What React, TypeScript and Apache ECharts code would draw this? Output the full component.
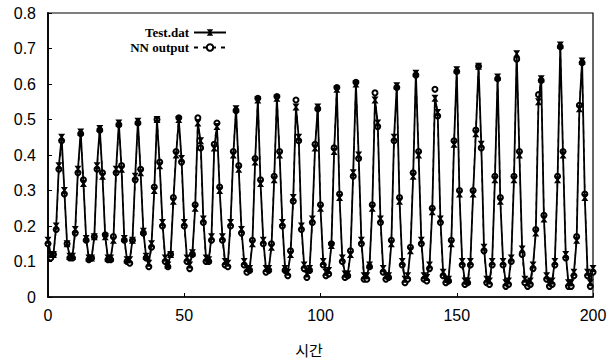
import React, { useEffect, useRef } from "react";
import * as echarts from "echarts";

const xTicks = [0, 50, 100, 150, 200];
const yTicks = [0, 0.1, 0.2, 0.3, 0.4, 0.5, 0.6, 0.7, 0.8];
const seriesNames = ["Test.dat", "NN output"];
const xAxisTitle = "시간";

// sample index t = 0..200
const testDat = [
  0.16, 0.12, 0.12, 0.2, 0.37, 0.45, 0.3, 0.15, 0.115, 0.115,
  0.19, 0.36, 0.465, 0.32, 0.165, 0.11, 0.11, 0.17, 0.37, 0.475,
  0.34, 0.17, 0.11, 0.11, 0.16, 0.36, 0.49, 0.36, 0.165, 0.105,
  0.105, 0.16, 0.34, 0.495, 0.35, 0.185, 0.115, 0.095, 0.15, 0.3,
  0.5, 0.37, 0.21, 0.11, 0.09, 0.12, 0.27, 0.4, 0.5, 0.39,
  0.21, 0.11, 0.09, 0.125, 0.25, 0.49, 0.44, 0.22, 0.11, 0.105,
  0.17, 0.42, 0.48, 0.3, 0.17, 0.1, 0.095, 0.21, 0.4, 0.53,
  0.36, 0.19, 0.1, 0.08, 0.08, 0.15, 0.38, 0.555, 0.32, 0.16,
  0.08, 0.08, 0.14, 0.33, 0.56, 0.4, 0.21, 0.08, 0.07, 0.12,
  0.28, 0.535, 0.45, 0.2, 0.09, 0.065, 0.08, 0.22, 0.42, 0.535,
  0.25, 0.1, 0.07, 0.075, 0.145, 0.41, 0.585, 0.28, 0.11, 0.065,
  0.065, 0.12, 0.35, 0.6, 0.4, 0.16, 0.06, 0.06, 0.09, 0.25,
  0.555, 0.49, 0.22, 0.08, 0.06, 0.06, 0.15, 0.45, 0.595, 0.27,
  0.1, 0.05, 0.06, 0.13, 0.34, 0.63, 0.4, 0.16, 0.06, 0.055,
  0.09, 0.24, 0.56, 0.52, 0.22, 0.07, 0.05, 0.05, 0.15, 0.43,
  0.64, 0.29, 0.1, 0.045, 0.045, 0.1, 0.29, 0.46, 0.65, 0.43,
  0.14, 0.05, 0.045, 0.1, 0.33, 0.62, 0.27, 0.1, 0.04, 0.045,
  0.11, 0.33, 0.685, 0.4, 0.135, 0.05, 0.04, 0.045, 0.09, 0.18,
  0.55, 0.615, 0.22, 0.06, 0.04, 0.045, 0.1, 0.33, 0.71, 0.4,
  0.12, 0.04, 0.04, 0.07, 0.16, 0.53, 0.665, 0.28, 0.07, 0.04,
  0.08,
];

const nnOutput = [
  0.15, 0.11, 0.12, 0.19, 0.36, 0.44, 0.29, 0.15, 0.11, 0.11,
  0.18, 0.35, 0.46, 0.33, 0.16, 0.105, 0.11, 0.17, 0.36, 0.47,
  0.35, 0.175, 0.105, 0.105, 0.17, 0.35, 0.485, 0.37, 0.16, 0.1,
  0.095, 0.16, 0.33, 0.49, 0.36, 0.18, 0.11, 0.085, 0.14, 0.31,
  0.5, 0.38, 0.2, 0.1, 0.085, 0.12, 0.28, 0.41, 0.505, 0.38,
  0.2, 0.1, 0.08, 0.12, 0.26, 0.505, 0.42, 0.21, 0.1, 0.1,
  0.16, 0.43, 0.49, 0.31, 0.16, 0.09, 0.085, 0.2, 0.41, 0.525,
  0.37, 0.18, 0.09, 0.07, 0.075, 0.16, 0.39, 0.56, 0.33, 0.15,
  0.07, 0.075, 0.15, 0.34, 0.565, 0.41, 0.2, 0.075, 0.06, 0.13,
  0.27, 0.555, 0.44, 0.19, 0.08, 0.055, 0.075, 0.21, 0.43, 0.53,
  0.26, 0.09, 0.06, 0.065, 0.15, 0.42, 0.59, 0.29, 0.1, 0.055,
  0.06, 0.13, 0.34, 0.605, 0.39, 0.15, 0.05, 0.05, 0.085, 0.26,
  0.575, 0.48, 0.21, 0.07, 0.05, 0.055, 0.16, 0.44, 0.59, 0.28,
  0.09, 0.04, 0.05, 0.14, 0.35, 0.625, 0.41, 0.15, 0.05, 0.045,
  0.08, 0.25, 0.585, 0.51, 0.21, 0.06, 0.04, 0.045, 0.16, 0.44,
  0.635, 0.3, 0.09, 0.035, 0.04, 0.09, 0.3, 0.47, 0.65, 0.42,
  0.13, 0.04, 0.035, 0.09, 0.34, 0.615, 0.28, 0.09, 0.03, 0.035,
  0.1, 0.34, 0.67, 0.41, 0.12, 0.04, 0.03, 0.035, 0.08, 0.19,
  0.57, 0.61, 0.23, 0.05, 0.03, 0.035, 0.09, 0.34, 0.705, 0.41,
  0.11, 0.03, 0.03, 0.06, 0.17, 0.54, 0.66, 0.29, 0.06, 0.03,
  0.07,
];

const hourglass = "path://M0,0L10,0L6.5,5L10,10L0,10L3.5,5Z";

export default function App() {
  const ref = useRef<HTMLDivElement>(null);

  useEffect(() => {
    if (!ref.current) return;
    const chart = echarts.init(ref.current, undefined, { renderer: "svg" });
    const labelFont = {
      color: "#000",
      fontSize: 16,
      fontFamily: "Liberation Sans, Arial, sans-serif",
    };
    const legendText = {
      color: "#000",
      fontSize: 13,
      fontWeight: "bold" as const,
      fontFamily: "Liberation Serif, Times New Roman, serif",
    };
    chart.setOption({
      animation: false,
      backgroundColor: "#fff",
      grid: {
        left: 48,
        right: 21,
        top: 13,
        bottom: 64,
        show: true,
        borderColor: "#000",
        borderWidth: 1.2,
        containLabel: false,
      },
      legend: [
        {
          data: [seriesNames[0]],
          right: 387,
          top: 26,
          align: "right",
          padding: 0,
          itemWidth: 32,
          itemHeight: 8,
          textStyle: legendText,
        },
        {
          data: [seriesNames[1]],
          right: 387,
          top: 41,
          align: "right",
          padding: 0,
          itemWidth: 32,
          itemHeight: 8,
          textStyle: legendText,
        },
      ],
      xAxis: {
        type: "value",
        min: xTicks[0],
        max: xTicks[xTicks.length - 1],
        interval: xTicks[1] - xTicks[0],
        axisLine: { show: true, lineStyle: { color: "#000", width: 1.5 } },
        axisTick: { show: true, inside: true, length: 4, lineStyle: { color: "#000" } },
        axisLabel: { ...labelFont, margin: 10 },
        splitLine: { show: false },
      },
      yAxis: {
        type: "value",
        min: yTicks[0],
        max: yTicks[yTicks.length - 1],
        interval: 0.1,
        axisLine: { show: true, lineStyle: { color: "#000", width: 1.8 } },
        axisTick: { show: true, inside: true, length: 4, lineStyle: { color: "#000" } },
        axisLabel: { ...labelFont, margin: 12 },
        splitLine: { show: false },
      },
      graphic: [
        {
          type: "text",
          x: 309,
          y: 349,
          style: {
            text: xAxisTitle,
            fontSize: 15,
            fontFamily: "Noto Sans CJK KR, sans-serif",
            fill: "#000",
            align: "center",
            verticalAlign: "middle",
          },
        },
      ],
      series: [
        {
          name: seriesNames[1],
          type: "line",
          data: nnOutput.map((v, i) => [i, v]),
          symbol: "emptyCircle",
          symbolSize: 5,
          showAllSymbol: true,
          itemStyle: { color: "#000", borderColor: "#000", borderWidth: 1.2 },
          lineStyle: { color: "#000", width: 1.2, type: [4, 5] },
          z: 2,
        },
        {
          name: seriesNames[0],
          type: "line",
          data: testDat.map((v, i) => [i, v]),
          symbol: hourglass,
          symbolSize: 7,
          showAllSymbol: true,
          itemStyle: { color: "#000" },
          lineStyle: { color: "#000", width: 1.8 },
          z: 3,
        },
      ],
    });
    return () => chart.dispose();
  }, []);

  return (
    <div
      ref={ref}
      style={{ position: "fixed", left: 0, top: 0, width: 614, height: 361 }}
    />
  );
}
